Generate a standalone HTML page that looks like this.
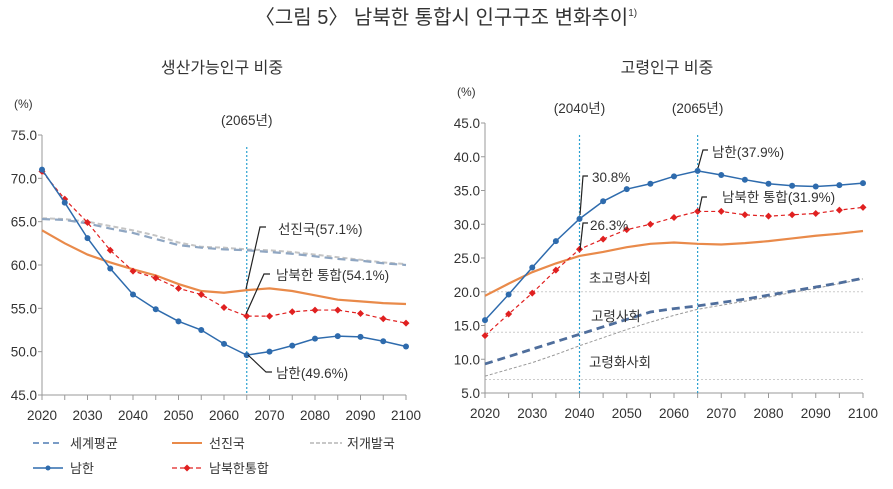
<!DOCTYPE html>
<html><head><meta charset="utf-8">
<style>
body{margin:0;background:#fff;}
svg text{font-family:"Liberation Sans","Noto Sans CJK KR",sans-serif;fill:#333;}
</style></head><body>
<svg id="s" width="893" height="484" xmlns="http://www.w3.org/2000/svg">
<text x="446" y="24" font-size="20" text-anchor="middle" fill="#333">〈그림 5〉 남북한 통합시 인구구조 변화추이<tspan font-size="10" dy="-8">1)</tspan></text>
<text x="222" y="73" font-size="16" text-anchor="middle">생산가능인구 비중</text>
<text x="667" y="73" font-size="16" text-anchor="middle">고령인구 비중</text>
<g id="L"></g><g id="R"></g>
<g font-size="13">
<line x1="33" y1="443" x2="63" y2="443" stroke="#7a9cc6" stroke-width="2" stroke-dasharray="6,4"/>
<text x="70" y="448">세계평균</text>
<line x1="172" y1="443" x2="202" y2="443" stroke="#e98a4a" stroke-width="2"/>
<text x="209" y="448">선진국</text>
<line x1="310" y1="443" x2="342" y2="443" stroke="#c8c8c8" stroke-width="2" stroke-dasharray="4,2"/>
<text x="347" y="448">저개발국</text>
<line x1="33" y1="468" x2="63" y2="468" stroke="#2e6bad" stroke-width="1.5"/>
<circle cx="48" cy="468" r="2.5" fill="#2e6bad"/>
<text x="70" y="473">남한</text>
<line x1="172" y1="468" x2="202" y2="468" stroke="#e02020" stroke-width="1.2" stroke-dasharray="5,3"/>
<path d="M187 464.5 L190.5 468 L187 471.5 L183.5 468Z" fill="#e02020"/>
<text x="209" y="473">남북한통합</text>
</g>
</svg>
<script>
var NS="http://www.w3.org/2000/svg";
function el(g,t,a,txt){var e=document.createElementNS(NS,t);for(var k in a)e.setAttribute(k,a[k]);if(txt!=null)e.textContent=txt;g.appendChild(e);return e;}
function chart(id,x0,x1,ymax,ymin,yt,yb,ticks,S){
 var g=document.getElementById(id);
 var sx=function(i){return x0+(x1-x0)*i/16;};
 var sy=function(v){return yt+(yb-yt)*(ymax-v)/(ymax-ymin);};
 (S.grid||[]).forEach(function(v){el(g,'line',{x1:x0,x2:x1,y1:sy(v),y2:sy(v),stroke:'#ccc','stroke-dasharray':'2,2'});});
 el(g,'line',{x1:x0,x2:x0,y1:yt,y2:yb,stroke:'#999'});
 el(g,'line',{x1:x0,x2:x1,y1:yb,y2:yb,stroke:'#999'});
 ticks.forEach(function(v){el(g,'line',{x1:x0-4,x2:x0,y1:sy(v),y2:sy(v),stroke:'#999'});
  el(g,'text',{x:x0-5,y:sy(v)+5,'font-size':13.5,'text-anchor':'end'},v.toFixed(1));});
 for(var i=0;i<=16;i++){el(g,'line',{x1:sx(i),x2:sx(i),y1:yb,y2:yb+5,stroke:'#999'});
  if(i%2==0)el(g,'text',{x:sx(i),y:yb+25,'font-size':13.5,'text-anchor':'middle'},2020+i*5);}
 el(g,'text',{x:x0-28,y:yt-27,'font-size':12},'(%)');
 S.vlines.forEach(function(i){el(g,'line',{x1:sx(i),x2:sx(i),y1:yt+12,y2:yb,stroke:'#2aa0d0','stroke-width':1.2,'stroke-dasharray':'2,2'});
  el(g,'text',{x:sx(i),y:yt-10,'font-size':13.5,'text-anchor':'middle'},'('+(2020+i*5)+'년)');});
 function pts(d){return d.map(function(v,i){return sx(i)+','+sy(v);}).join(' ');}
 el(g,'polyline',{points:pts(S.ld),fill:'none',stroke:S.ldc,'stroke-width':S.ldw,'stroke-dasharray':S.ldd});
 el(g,'polyline',{points:pts(S.w),fill:'none',stroke:S.wc,'stroke-width':S.ww,'stroke-dasharray':'8,5'});
 el(g,'polyline',{points:pts(S.dev),fill:'none',stroke:'#e98a4a','stroke-width':2.2});
 el(g,'polyline',{points:pts(S.u),fill:'none',stroke:'#e02020','stroke-width':1.2,'stroke-dasharray':'4,3'});
 S.u.forEach(function(v,i){var x=sx(i),y=sy(v);el(g,'path',{d:'M'+x+' '+(y-3.5)+'L'+(x+3.5)+' '+y+'L'+x+' '+(y+3.5)+'L'+(x-3.5)+' '+y+'Z',fill:'#e02020'});});
 el(g,'polyline',{points:pts(S.s),fill:'none',stroke:'#2e6bad','stroke-width':1.5});
 S.s.forEach(function(v,i){el(g,'circle',{cx:sx(i),cy:sy(v),r:3,fill:'#2e6bad'});});
 S.labels.forEach(function(l){el(g,'path',{d:l.p,fill:'none',stroke:'#222','stroke-width':1.2});
  el(g,'text',{x:l.x,y:l.y,'font-size':13.5},l.t);});
 S.notes&&S.notes.forEach(function(l){el(g,'text',{x:l.x,y:l.y,'font-size':13.5},l.t);});
}
chart('L',42,406,75,45,135,395,[75,70,65,60,55,50,45],{
 vlines:[9],ww:2.2,wc:'#8fa6c2',ldd:'5,3',ldc:'#c4c4c4',ldw:2,
 s:[71.0,67.2,63.1,59.6,56.6,54.9,53.5,52.5,50.9,49.6,50.0,50.7,51.5,51.8,51.7,51.2,50.6],
 u:[70.8,67.6,64.9,61.7,59.3,58.5,57.3,56.6,55.1,54.1,54.1,54.6,54.8,54.8,54.4,53.8,53.3],
 dev:[64.0,62.5,61.2,60.3,59.5,58.8,57.8,57.0,56.8,57.1,57.3,57.0,56.5,56.0,55.8,55.6,55.5],
 w:[65.3,65.2,64.8,64.2,63.7,63.0,62.3,62.0,61.8,61.7,61.5,61.3,61.0,60.7,60.5,60.2,60.0],
 ld:[65.4,65.3,65.0,64.5,64.0,63.4,62.6,62.1,62.0,61.8,61.7,61.5,61.2,60.9,60.6,60.3,60.1],
 labels:[{p:'M266 227 L260 227 L246 289',x:278,y:234,t:'선진국(57.1%)'},
  {p:'M270 274 L264 274 L246 314',x:276,y:280,t:'남북한 통합(54.1%)'},
  {p:'M272 372 L266 372 L248 355',x:276,y:378,t:'남한(49.6%)'}]
});
chart('R',485,863,45,5,123,393,[45,40,35,30,25,20,15,10,5],{
 vlines:[4,9],ww:2.8,wc:'#4f6e9c',ldd:'3,2',ldc:'#999',ldw:1,grid:[20,14,7],
 s:[15.8,19.6,23.6,27.5,30.8,33.4,35.2,36.0,37.1,37.9,37.3,36.6,36.0,35.7,35.6,35.8,36.1],
 u:[13.5,16.7,19.8,23.2,26.3,27.8,29.2,30.0,31.0,31.9,31.9,31.4,31.2,31.4,31.6,32.1,32.5],
 dev:[19.4,21.2,22.9,24.2,25.3,25.9,26.6,27.1,27.3,27.1,27.0,27.2,27.5,27.9,28.3,28.6,29.0],
 w:[9.3,10.4,11.5,12.6,13.7,14.8,15.9,17.0,17.5,17.9,18.4,18.9,19.5,20.1,20.7,21.3,22.0],
 ld:[7.5,8.5,9.5,10.7,12.0,13.2,14.4,15.5,16.5,17.4,18.0,18.6,19.2,19.9,20.5,21.2,21.9],
 labels:[{p:'M588 176 L583 176 L580 215',x:592,y:182,t:'30.8%'},
  {p:'M588 223 L583 223 L580 250',x:590,y:230,t:'26.3%'},
  {p:'M708 150 L703 150 L698 168',x:712,y:157,t:'남한(37.9%)'},
  {p:'M707 197 L702 197 L699 211',x:722,y:202,t:'남북한 통합(31.9%)'}],
 notes:[{x:589,y:283,t:'초고령사회'},{x:591,y:321,t:'고령사회'},{x:589,y:367,t:'고령화사회'}]
});
</script>
</body></html>
